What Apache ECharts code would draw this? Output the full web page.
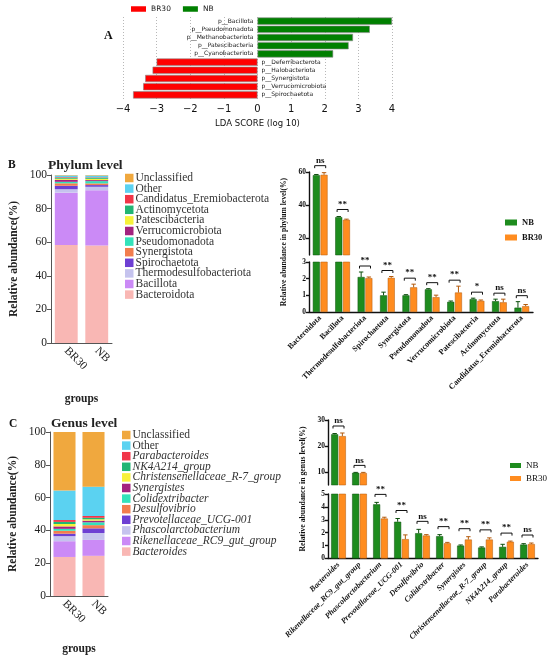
<!DOCTYPE html>
<html><head><meta charset="utf-8">
<script src="https://cdn.jsdelivr.net/npm/echarts@6/dist/echarts.min.js"></script>
<style>html,body{margin:0;padding:0;background:#fff}#c{width:550px;height:656px}</style>
</head><body><div id="c"></div>
<script>
// ---------- Panel A: LEfSe LDA ----------
const ldaTaxa = ['p__Bacillota','p__Pseudomonadota','p__Methanobacteriota','p__Patescibacteria','p__Cyanobacteriota','p__Deferribacterota','p__Halobacteriota','p__Synergistota','p__Verrucomicrobiota','p__Spirochaetota'];
const ldaScores = [4.0, 3.34, 2.84, 2.71, 2.25, -3.0, -3.12, -3.34, -3.4, -3.7];

// ---------- Panel B: phylum ----------
const groups = ['BR30', 'NB'];
const phyla = ['Bacteroidota','Bacillota','Thermodesulfobacteriota','Spirochaetota','Synergistota','Pseudomonadota','Verrucomicrobiota','Patescibacteria','Actinomycetota','Candidatus_Eremiobacterota'];
const phylumNB   = [58.1, 32.8, 2.1, 1.0, 1.0, 1.36, 0.61, 0.77, 0.65, 0.26];
const phylumNBsd = [0.4, 0.4, 0.3, 0.19, 0.04, 0.04, 0.05, 0.06, 0.12, 0.36];
const phylumBR   = [58.3, 31.2, 2.03, 2.05, 1.48, 0.89, 1.17, 0.67, 0.58, 0.35];
const phylumBRsd = [1.3, 0.4, 0.07, 0.08, 0.19, 0.12, 0.38, 0.05, 0.19, 0.1];
const phylumSig  = ['ns','**','**','**','**','**','**','*','ns','ns'];
const phylumOther = [1.0, 1.05];        // BR30, NB
const phylumUnclassified = [0.28, 0.3]; // BR30, NB
const phylumTicksTop = [20, 40, 60];

// ---------- Panel C: genus ----------
const genera = ['Bacteroides','Rikenellaceae_RC9_gut_group','Phascolarctobacterium','Prevotellaceae_UCG-001','Desulfovibrio','Colidextribacter','Synergistes','Christensenellaceae_R-7_group','NK4A214_group','Parabacteroides'];
const genusNB   = [24.5, 9.7, 4.2, 2.85, 1.96, 1.73, 1.0, 0.85, 0.9, 1.08];
const genusNBsd = [0.3, 0.15, 0.15, 0.25, 0.3, 0.12, 0.05, 0.05, 0.2, 0.07];
const genusBR   = [23.8, 9.6, 3.1, 1.5, 1.78, 1.18, 1.47, 1.47, 1.3, 1.12];
const genusBRsd = [1.2, 0.25, 0.1, 0.33, 0.07, 0.07, 0.22, 0.13, 0.05, 0.08];
const genusSig  = ['ns','ns','**','**','ns','**','**','**','**','ns'];
const genusOther = [18.0, 17.9];
const genusUnclassified = [35.7, 33.3];
const genusTicksTop = [10, 20, 30];

const stackColors = ['#F9B7B4','#CB8AF6','#C5C3EE','#6D3FD3','#F27D4E','#33E2BA','#A3227F','#F7F13A','#22B574','#F13548','#5BD2F1','#F0A83E'];

const SERIF = '"Liberation Serif","Times New Roman",serif';
const SANS = '"DejaVu Sans",sans-serif';
const NBC = '#1E8C1E', BRC = '#FF8C1F';
const NBE = '#0d4f0d', BRE = '#b35a0c';
const OFF = 3.85;

const grids = [
  {left:123, top:17, width:269, height:82},      // 0 A
  {left:51, top:175, width:61, height:168},      // 1 B stacked
  {left:309, top:172, width:224, height:83},     // 2 B top
  {left:309, top:262, width:224, height:50},     // 3 B bottom
  {left:50, top:432, width:58, height:166},      // 4 C stacked
  {left:328, top:420, width:210, height:65},     // 5 C top
  {left:328, top:494, width:210, height:64.5}    // 6 C bottom
];

const blackAxis = {lineStyle:{color:'#111', width:1.4}};
const blackTick = {length:3, lineStyle:{color:'#111', width:1.4}};

function stackAxes(gi, nameGapX){
  return {
    x:{gridIndex:gi, type:'category', data:groups, axisLine:{lineStyle:{color:'#555',width:1}},
       axisTick:{alignWithLabel:true, length:4, lineStyle:{color:'#555'}},
       axisLabel:{rotate:-45, fontFamily:SERIF, fontSize:11.5, color:'#222', margin:6},
       name:'groups', nameLocation:'middle', nameGap:nameGapX,
       nameTextStyle:{fontFamily:SERIF, fontSize:11.5, fontWeight:'bold', color:'#222'}},
    y:{gridIndex:gi, type:'value', min:0, max:100, interval:20, splitLine:{show:false},
       axisLine:{show:true, lineStyle:{color:'#555',width:1}}, axisTick:{show:true, length:4, lineStyle:{color:'#555'}},
       axisLabel:{fontFamily:SERIF, fontSize:11.5, color:'#222', margin:4},
       name:'Relative abundance(%)', nameLocation:'middle', nameGap:31,
       nameTextStyle:{fontFamily:SERIF, fontSize:11.5, fontWeight:'bold', color:'#222'}}
  };
}
function catAxis(gi, cats, showLabels, italic){
  return {gridIndex:gi, type:'category', data:cats, show:showLabels,
    axisLine:blackAxis, axisTick:Object.assign({alignWithLabel:true}, blackTick),
    axisLabel:{rotate:45, fontFamily:SERIF, fontSize:8, fontWeight:'bold', fontStyle:italic?'italic':'normal', color:'#111', margin:5}};
}
function valAxis(gi, min, max, interval, custom){
  const a = {gridIndex:gi, type:'value', min:min, max:max, splitLine:{show:false},
    axisLine:Object.assign({show:true}, blackAxis), axisTick:Object.assign({show:true}, blackTick),
    axisLabel:{fontFamily:SERIF, fontSize:7.5, fontWeight:'bold', color:'#111', margin:3}};
  if (custom) { a.axisLabel.customValues = custom; a.axisTick.customValues = custom; }
  else a.interval = interval;
  return a;
}

const xAxes = [], yAxes = [], series = [];
// A
xAxes.push({gridIndex:0, type:'value', min:-4, max:4, interval:1, axisLine:{show:false}, axisTick:{show:false},
  splitLine:{show:true, lineStyle:{type:[1,2], color:'#999', width:0.7}},
  axisLabel:{fontFamily:SANS, fontSize:10, color:'#111', margin:5, formatter:v=>v<0?'\u2212'+(-v):String(v)},
  name:'LDA SCORE (log 10)', nameLocation:'middle', nameGap:20, nameTextStyle:{fontFamily:SANS, fontSize:8.5, color:'#111'}});
yAxes.push({gridIndex:0, type:'category', data:ldaTaxa, inverse:true, show:false});
series.push({type:'bar', name:'NB', xAxisIndex:0, yAxisIndex:0, barCategoryGap:'12%', barGap:'-100%',
  data:ldaScores.map(v=>v>0?v:'-'), itemStyle:{color:'#008000', borderColor:'#888', borderWidth:0.6},
  label:{show:true, position:'left', distance:4, formatter:p=>p.name, fontFamily:SANS, fontSize:6, color:'#222'}});
series.push({type:'bar', name:'BR30', xAxisIndex:0, yAxisIndex:0, barCategoryGap:'12%', barGap:'-100%',
  data:ldaScores.map(v=>v<0?v:'-'), itemStyle:{color:'#FF0000', borderColor:'#888', borderWidth:0.6},
  label:{show:true, position:'right', distance:4, formatter:p=>p.name, fontFamily:SANS, fontSize:6, color:'#222'}});

// B stacked
let sa = stackAxes(1, 50); xAxes.push(sa.x); yAxes.push(sa.y);
const phylumStackNames = phyla.concat(['Other','Unclassified']);
phylumStackNames.forEach((n,k)=>{
  let vals;
  if (k < phyla.length) vals = [phylumBR[k], phylumNB[k]];
  else if (n==='Other') vals = phylumOther; else vals = phylumUnclassified;
  series.push({type:'bar', name:n, xAxisIndex:1, yAxisIndex:1, stack:'p', barCategoryGap:'25%', data:vals, itemStyle:{color:stackColors[k]}});
});

// B right
xAxes.push(catAxis(2, phyla, false)); yAxes.push(valAxis(2, 10, 60, null, phylumTicksTop));
xAxes.push(catAxis(3, phyla, true, false)); yAxes.push(valAxis(3, 0, 3, 1));

// C stacked
sa = stackAxes(4, 47); xAxes.push(sa.x); yAxes.push(sa.y);
const genusStackNames = genera.concat(['Other#g','Unclassified#g']);
genusStackNames.forEach((n,k)=>{
  let vals;
  if (k < genera.length) vals = [genusBR[k], genusNB[k]];
  else if (n==='Other#g') vals = genusOther; else vals = genusUnclassified;
  series.push({type:'bar', name:n, xAxisIndex:4, yAxisIndex:4, stack:'g', barCategoryGap:'24%', data:vals, itemStyle:{color:stackColors[k]}});
});

// C right
xAxes.push(catAxis(5, genera, false)); yAxes.push(valAxis(5, 5, 30, null, genusTicksTop));
xAxes.push(catAxis(6, genera, true, true)); yAxes.push(valAxis(6, 0, 5, 1));

function barPair(gi, nb, br, lo, suffix){
  const f = v => v >= lo ? v : '-';
  series.push({type:'bar', name:'NB#'+suffix, xAxisIndex:gi, yAxisIndex:gi, barWidth:7, barGap:'10%', clip:true,
    data:nb.map(f), itemStyle:{color:NBC, borderColor:NBE, borderWidth:0.5}});
  series.push({type:'bar', name:'BR30#'+suffix, xAxisIndex:gi, yAxisIndex:gi, barWidth:7, barGap:'10%', clip:true,
    data:br.map(f), itemStyle:{color:BRC, borderColor:BRE, borderWidth:0.5}});
}
function errSeries(gi, means, sds, side, color, lo, hi){
  const d = means.map((m,i)=>[i, m, m+sds[i]]).filter(r=>r[1]>=lo && r[1]<=hi);
  series.push({type:'custom', xAxisIndex:gi, yAxisIndex:gi, z:5, silent:true, data:d, encode:{x:0, y:[1,2]},
    renderItem:(p, api)=>{
      const b = api.coord([api.value(0), api.value(1)]);
      const t = api.coord([api.value(0), api.value(2)]);
      const x = b[0] + side*OFF;
      return {type:'group', children:[
        {type:'line', shape:{x1:x, y1:b[1], x2:x, y2:t[1]}, style:{stroke:color, lineWidth:1}},
        {type:'line', shape:{x1:x-2.2, y1:t[1], x2:x+2.2, y2:t[1]}, style:{stroke:color, lineWidth:1}}
      ]};
    }});
}
function sigSeries(gi, nb, nbsd, br, brsd, sig, lo, hi, gap){
  const d = nb.map((m,i)=>[i, Math.max(m+nbsd[i], br[i]+brsd[i]), m]).filter(r=>r[2]>=lo && r[2]<=hi);
  const labels = d.map(r=>sig[r[0]]);
  series.push({type:'custom', xAxisIndex:gi, yAxisIndex:gi, z:6, silent:true, clip:false, data:d.map(r=>[r[0], r[1]]), encode:{x:0, y:1},
    renderItem:(p, api)=>{
      const t = api.coord([api.value(0), api.value(1)]);
      const x = t[0], y = t[1] - gap;
      return {type:'group', children:[
        {type:'polyline', shape:{points:[[x-5.5,y+2.5],[x-5.5,y],[x+5.5,y],[x+5.5,y+2.5]]}, style:{stroke:'#111', lineWidth:1, fill:null}},
        {type:'text', x:x, y:y-0.5, style:{text:labels[p.dataIndex], align:'center', verticalAlign:'bottom', fontFamily:SERIF, fontWeight:'bold', fontSize:9, fill:'#111'}}
      ]};
    }});
}

barPair(2, phylumNB, phylumBR, 10, 'B');
barPair(3, phylumNB, phylumBR, 0, 'B3');
errSeries(2, phylumNB, phylumNBsd, -1, NBE, 10, 60); errSeries(2, phylumBR, phylumBRsd, 1, BRE, 10, 60);
errSeries(3, phylumNB, phylumNBsd, -1, NBE, 0, 3);  errSeries(3, phylumBR, phylumBRsd, 1, BRE, 0, 3);
sigSeries(2, phylumNB, phylumNBsd, phylumBR, phylumBRsd, phylumSig, 10, 60, 7);
sigSeries(3, phylumNB, phylumNBsd, phylumBR, phylumBRsd, phylumSig, 0, 3, 6);

barPair(5, genusNB, genusBR, 5, 'C');
barPair(6, genusNB, genusBR, 0, 'C6');
errSeries(5, genusNB, genusNBsd, -1, NBE, 5, 30); errSeries(5, genusBR, genusBRsd, 1, BRE, 5, 30);
errSeries(6, genusNB, genusNBsd, -1, NBE, 0, 5);  errSeries(6, genusBR, genusBRsd, 1, BRE, 0, 5);
sigSeries(5, genusNB, genusNBsd, genusBR, genusBRsd, genusSig, 5, 30, 7);
sigSeries(6, genusNB, genusNBsd, genusBR, genusBRsd, genusSig, 0, 5, 8);

const strip = n => n.split('#')[0];
const stackLegendStyle = {orient:'vertical', icon:'rect', itemWidth:8.5, itemHeight:8.5, itemGap:-1.4, formatter:strip,
  itemStyle:{borderWidth:0},
  textStyle:{fontFamily:SERIF, fontSize:11.5, color:'#333', padding:[0,0,0,-3], lineHeight:9}};

const option = {
  animation:false,
  title:[
    {text:'A', left:99, top:25, textStyle:{fontFamily:SERIF, fontSize:12, fontWeight:'bold', color:'#111'}},
    {text:'B', left:3, top:154, textStyle:{fontFamily:SERIF, fontSize:11.5, fontWeight:'bold', color:'#111'}},
    {text:'Phylum level', left:43, top:154, textStyle:{fontFamily:SERIF, fontSize:13.5, fontWeight:'bold', color:'#222'}},
    {text:'C', left:4, top:413, textStyle:{fontFamily:SERIF, fontSize:11.5, fontWeight:'bold', color:'#111'}},
    {text:'Genus level', left:46, top:412, textStyle:{fontFamily:SERIF, fontSize:13.5, fontWeight:'bold', color:'#222'}}
  ],
  legend:[
    {data:['BR30','NB'], left:126, top:0, icon:'rect', itemWidth:15, itemHeight:5.5, itemGap:12, itemStyle:{borderWidth:0},
     textStyle:{fontFamily:SANS, fontSize:7.5, color:'#222'}},
    Object.assign({left:120, top:167, data:phylumStackNames.slice().reverse()}, stackLegendStyle),
    {data:['NB#B','BR30#B'], left:500, top:213, orient:'vertical', icon:'rect', itemWidth:12, itemHeight:6, itemGap:6, formatter:strip,
     itemStyle:{borderWidth:0}, textStyle:{fontFamily:SERIF, fontSize:8.5, fontWeight:'bold', color:'#111'}},
    Object.assign({left:117, top:424, data:genusStackNames.slice().reverse().map(n=>{
      const it = {name:n};
      if (n.indexOf('#')<0) it.textStyle = {fontStyle:'italic'};
      return it;
    })}, stackLegendStyle),
    {data:['NB#C','BR30#C'], left:505, top:456, orient:'vertical', icon:'rect', itemWidth:11, itemHeight:5, itemGap:4, formatter:strip,
     itemStyle:{borderWidth:0}, textStyle:{fontFamily:SERIF, fontSize:9, color:'#111'}}
  ],
  grid:grids,
  xAxis:xAxes,
  yAxis:yAxes,
  series:series,
  graphic:[
    {type:'text', x:284, y:242, rotation:Math.PI/2, style:{text:'Relative abundance in phylum level(%)', align:'center', verticalAlign:'middle', fontFamily:SERIF, fontSize:7.6, fontWeight:'bold', fill:'#111'}},
    {type:'text', x:303, y:489, rotation:Math.PI/2, style:{text:'Relative abundance in genus level(%)', align:'center', verticalAlign:'middle', fontFamily:SERIF, fontSize:7.8, fontWeight:'bold', fill:'#111'}}
  ]
};
const chart = echarts.init(document.getElementById('c'), null, {renderer:'canvas'});
chart.setOption(option);
</script></body></html>
